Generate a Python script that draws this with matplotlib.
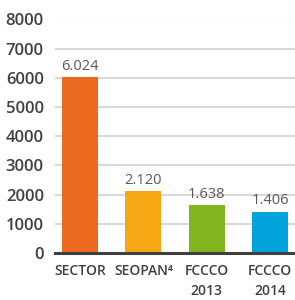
import matplotlib.pyplot as plt
import numpy as np

categories = ['SECTOR', 'SEOPAN\u2074', 'FCCCO\n2013', 'FCCCO\n2014']
values = [6024, 2120, 1638, 1406]
value_labels = ['6.024', '2.120', '1.638', '1.406']
colors = ['#EB6A1F', '#F5A814', '#80B51E', '#00A3DC']
y_ticks = [0, 1000, 2000, 3000, 4000, 5000, 6000, 7000, 8000]

plt.rcParams['font.family'] = ['Open Sans', 'DejaVu Sans']

fig = plt.figure(figsize=(2.95, 3.0), dpi=100)
ax = fig.add_axes([0.186, 0.157, 0.814, 0.778])

x = np.arange(len(categories))
bars = ax.bar(x, values, width=0.57, color=colors, zorder=2)

for b, lab in zip(bars, value_labels):
    ax.text(b.get_x() + b.get_width() / 2, b.get_height() + 120, lab,
            ha='center', va='bottom', fontsize=10.5, color='#595959')

ax.set_xlim(-0.395, 3.39)
ax.set_ylim(0, 8000)
ax.set_yticks(y_ticks)
ax.set_yticklabels([str(t) for t in y_ticks], fontsize=12, fontweight='semibold',
                   color='#404040')
ax.set_xticks(x)
ax.set_xticklabels(categories, fontsize=10, fontweight='semibold', color='#404040',
                   linespacing=1.5, va='top')

ax.grid(axis='y', color='#d9d9d9', linewidth=1.5, zorder=0)
ax.tick_params(axis='both', length=0)
ax.tick_params(axis='y', pad=8)
ax.tick_params(axis='x', pad=8)
for s in ['top', 'right', 'left']:
    ax.spines[s].set_visible(False)
ax.spines['bottom'].set_color('#404040')
ax.spines['bottom'].set_linewidth(2.2)
ax.spines['bottom'].set_zorder(3)

fig.savefig('out.png', dpi=100)
